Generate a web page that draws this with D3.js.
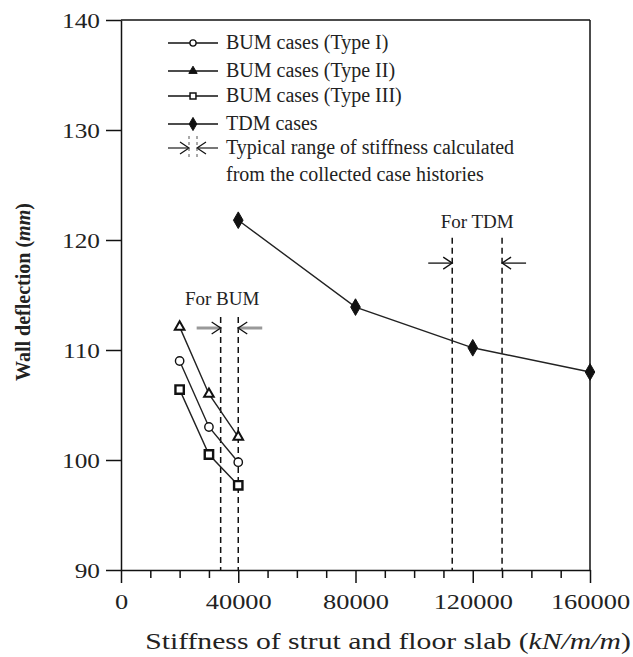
<!DOCTYPE html>
<html>
<head>
<meta charset="utf-8">
<script src="https://cdn.jsdelivr.net/npm/d3@7"></script>
<style>
  body { margin: 0; background: #fff; }
  svg { display: block; }
</style>
</head>
<body>
<div id="chart"></div>
<script>
(function() {
  var FONT = '"Liberation Serif", "Times New Roman", serif';

  // Data
  var xTicks = [0, 40000, 80000, 120000, 160000];
  var xMinor = [10000, 20000, 30000, 50000, 60000, 70000, 90000, 100000, 110000, 130000, 140000, 150000];
  var yTicks = [90, 100, 110, 120, 130, 140];

  var bumType1 = [[20000, 109.0], [30000, 103.0], [40000, 99.8]];
  var bumType2 = [[20000, 112.1], [30000, 106.0], [40000, 102.1]];
  var bumType3 = [[20000, 106.4], [30000, 100.5], [40000, 97.7]];
  var tdmCases = [[40000, 121.8], [80000, 113.9], [120000, 110.2], [160000, 108.0]];

  var bumRange = [34000, 40000];
  var tdmRange = [113000, 130000];

  var w = 633, h = 657;
  var margin = { top: 20, right: 43, bottom: 87, left: 121 };
  var iw = w - margin.left - margin.right;
  var ih = h - margin.top - margin.bottom;

  var svg = d3.select('#chart').append('svg').attr('width', w).attr('height', h);
  var g = svg.append('g').attr('transform', 'translate(' + margin.left + ',' + margin.top + ')');

  var x = d3.scaleLinear().domain([0, 160000]).range([0, iw]);
  var y = d3.scaleLinear().domain([90, 140]).range([ih, 0]);

  // the scanned figure's text is horizontally wider than the font
  function stretch(sel, f) {
    sel.each(function() {
      var len = this.getComputedTextLength();
      d3.select(this).attr('textLength', len * f).attr('lengthAdjust', 'spacingAndGlyphs');
    });
  }

  // Frame (top and right)
  g.append('line').attr('x1', 0).attr('x2', iw).attr('y1', 0).attr('y2', 0)
    .attr('stroke', '#111').attr('stroke-width', 1.5);
  g.append('line').attr('x1', iw).attr('x2', iw).attr('y1', 0).attr('y2', ih)
    .attr('stroke', '#111').attr('stroke-width', 1.5);

  // Y axis
  g.append('g')
    .call(d3.axisLeft(y).tickValues(yTicks).tickSize(15).tickSizeOuter(0).tickPadding(6))
    .call(function(a) { a.select('.domain').attr('stroke', '#111').attr('stroke-width', 1.5); })
    .call(function(a) { a.selectAll('.tick line').attr('stroke', '#111').attr('stroke-width', 1.5); })
    .call(function(a) { a.selectAll('.tick text').attr('fill', '#222').attr('font-size', '22px').attr('font-family', FONT).call(stretch, 1.15); });

  // X axis minor ticks
  g.append('g').attr('transform', 'translate(0,' + ih + ')')
    .call(d3.axisBottom(x).tickValues(xMinor).tickSize(8).tickSizeOuter(0).tickFormat(''))
    .call(function(a) { a.select('.domain').remove(); })
    .call(function(a) { a.selectAll('.tick line').attr('stroke', '#111').attr('stroke-width', 1.5); });

  // X axis
  g.append('g').attr('transform', 'translate(0,' + ih + ')')
    .call(d3.axisBottom(x).tickValues(xTicks).tickSize(13).tickSizeOuter(0).tickPadding(10).tickFormat(d3.format('d')))
    .call(function(a) { a.select('.domain').attr('stroke', '#111').attr('stroke-width', 1.5); })
    .call(function(a) { a.selectAll('.tick line').attr('stroke', '#111').attr('stroke-width', 1.5); })
    .call(function(a) { a.selectAll('.tick text').attr('fill', '#222').attr('font-size', '22px').attr('font-family', FONT).call(stretch, 1.2); });

  // Axis titles
  var xt = svg.append('text').attr('x', 388).attr('y', 649)
    .attr('text-anchor', 'middle').attr('fill', '#222').attr('font-size', '23px').attr('font-family', FONT);
  xt.append('tspan').text('Stiffness of strut and floor slab (');
  xt.append('tspan').attr('font-style', 'italic').text('kN/m/m');
  xt.append('tspan').text(')');
  xt.call(stretch, 1.29);

  var yt = svg.append('text').attr('transform', 'translate(30,292) rotate(-90)')
    .attr('text-anchor', 'middle').attr('fill', '#222').attr('font-size', '20px')
    .attr('font-weight', 'bold').attr('font-family', FONT);
  yt.append('tspan').text('Wall deflection (');
  yt.append('tspan').attr('font-style', 'italic').text('mm');
  yt.append('tspan').text(')');

  // Range markers (dashed lines + arrows)
  function rangeMarker(vals, topVal, arrowVal, shaftColor, shaftWidth, label, labelX, labelVal) {
    vals.forEach(function(v, i) {
      g.append('line').attr('x1', x(v)).attr('x2', x(v)).attr('y1', y(topVal)).attr('y2', ih)
        .attr('stroke', '#111').attr('stroke-width', 1.5).attr('stroke-dasharray', '6,4');
      var dir = i === 0 ? 1 : -1;
      var tipX = x(v), ay = y(arrowVal);
      g.append('line').attr('x1', tipX - dir * 24).attr('x2', tipX).attr('y1', ay).attr('y2', ay)
        .attr('stroke', shaftColor).attr('stroke-width', shaftWidth);
      g.append('path')
        .attr('d', 'M' + (tipX - dir * 9) + ',' + (ay - 6) + 'L' + tipX + ',' + ay + 'L' + (tipX - dir * 9) + ',' + (ay + 6))
        .attr('fill', 'none').attr('stroke', '#111').attr('stroke-width', 1.3);
    });
    g.append('text').attr('x', x(labelX)).attr('y', y(labelVal)).attr('text-anchor', 'middle')
      .attr('fill', '#222').attr('font-size', '19px').attr('font-family', FONT).text(label);
  }
  rangeMarker(bumRange, 113, 112, '#999', 3, 'For BUM', 34500, 114.1);
  rangeMarker(tdmRange, 120.2, 117.9, '#111', 1.3, 'For TDM', 121500, 121.1);

  // Series
  var line = d3.line().x(function(d) { return x(d[0]); }).y(function(d) { return y(d[1]); });
  var series = [
    { data: bumType1, sym: d3.symbolCircle, size: 55, fill: '#fff', sw: 1.4 },
    { data: bumType2, sym: d3.symbolTriangle, size: 40, fill: '#fff', sw: 2 },
    { data: bumType3, sym: d3.symbolSquare, size: 70, fill: '#fff', sw: 2.4 },
    { data: tdmCases, sym: d3.symbolDiamond, size: 80, fill: '#111', sw: 1 }
  ];
  series.forEach(function(s) {
    g.append('path').datum(s.data).attr('d', line)
      .attr('fill', 'none').attr('stroke', '#222').attr('stroke-width', 1.4);
    g.selectAll(null).data(s.data).join('path')
      .attr('transform', function(d) { return 'translate(' + x(d[0]) + ',' + y(d[1]) + ')'; })
      .attr('d', d3.symbol(s.sym, s.size))
      .attr('fill', s.fill).attr('stroke', '#111').attr('stroke-width', s.sw);
  });

  // Legend
  var legendItems = [
    { label: 'BUM cases (Type I)', sym: d3.symbolCircle, size: 30, fill: '#fff', sw: 1.3 },
    { label: 'BUM cases (Type II)', sym: d3.symbolTriangle, size: 30, fill: '#111', sw: 1 },
    { label: 'BUM cases (Type III)', sym: d3.symbolSquare, size: 35, fill: '#fff', sw: 1.5 },
    { label: 'TDM cases', sym: d3.symbolDiamond, size: 50, fill: '#111', sw: 1 }
  ];
  var lg = svg.append('g').attr('transform', 'translate(168,0)');
  var rowY = [43, 71, 96, 124];
  legendItems.forEach(function(it, i) {
    var ry = rowY[i];
    lg.append('line').attr('x1', 0).attr('x2', 50).attr('y1', ry).attr('y2', ry)
      .attr('stroke', '#111').attr('stroke-width', 1.5);
    lg.append('path').attr('transform', 'translate(25,' + ry + ')')
      .attr('d', d3.symbol(it.sym, it.size))
      .attr('fill', it.fill).attr('stroke', '#111').attr('stroke-width', it.sw);
    lg.append('text').attr('x', 58).attr('y', ry + 6).attr('fill', '#222')
      .attr('font-size', '20px').attr('font-family', FONT).text(it.label);
  });
  // range symbol in legend
  var ly = 148;
  lg.append('line').attr('x1', 0).attr('x2', 20).attr('y1', ly).attr('y2', ly).attr('stroke', '#777').attr('stroke-width', 2);
  lg.append('line').attr('x1', 30).attr('x2', 50).attr('y1', ly).attr('y2', ly).attr('stroke', '#777').attr('stroke-width', 2);
  lg.append('path').attr('d', 'M12,' + (ly - 6) + 'L21,' + ly + 'L12,' + (ly + 6))
    .attr('fill', 'none').attr('stroke', '#111').attr('stroke-width', 1.2);
  lg.append('path').attr('d', 'M38,' + (ly - 6) + 'L29,' + ly + 'L38,' + (ly + 6))
    .attr('fill', 'none').attr('stroke', '#111').attr('stroke-width', 1.2);
  [21, 29].forEach(function(dx) {
    lg.append('line').attr('x1', dx).attr('x2', dx).attr('y1', ly - 12).attr('y2', ly + 12)
      .attr('stroke', '#555').attr('stroke-width', 1).attr('stroke-dasharray', '3,3');
  });
  lg.append('text').attr('x', 58).attr('y', ly + 6).attr('fill', '#222')
    .attr('font-size', '20px').attr('font-family', FONT).text('Typical range of stiffness calculated');
  lg.append('text').attr('x', 58).attr('y', ly + 33).attr('fill', '#222')
    .attr('font-size', '20px').attr('font-family', FONT).text('from the collected case histories');
})();
</script>
</body>
</html>
